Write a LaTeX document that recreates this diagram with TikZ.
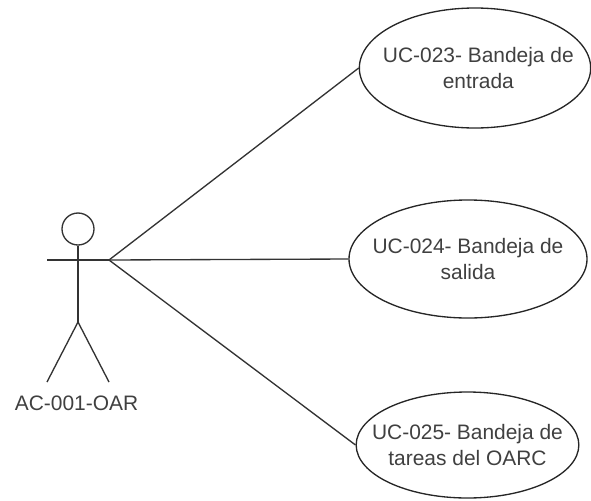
\documentclass[tikz,border=0pt]{standalone}
\usepackage{fontspec}
\setmainfont{Liberation Sans}
\usetikzlibrary{shapes.geometric}
\tikzset{
  uc/.style={draw=black!85,ellipse,line width=1pt,inner xsep=-25pt,inner ysep=0pt,align=center,font=\fontsize{15.7pt}{20pt}\selectfont,text=black!75},
  ln/.style={draw=black!80,line width=1pt},
  lab/.style={font=\fontsize{15.7pt}{19pt}\selectfont,text=black!75,inner sep=0pt}
}
\begin{document}
\begin{tikzpicture}[x=0.75pt,y=-0.75pt]
\useasboundingbox (0,0) rectangle (591,500);
\node[uc,minimum width=173.5pt,minimum height=90pt] (a) at (475,68) {\hspace*{5pt}UC-023- Bandeja de\\\hspace*{5pt}entrada};
\node[uc,minimum width=178.5pt,minimum height=88.5pt] (b) at (468,259) {UC-024- Bandeja de\\salida};
\node[uc,minimum width=167pt,minimum height=79.5pt] (c) at (467.5,445) {UC-025- Bandeja de\\tareas del OARC};
\node[draw=black!80,circle,line width=1pt,minimum size=24pt,inner sep=0pt] (head) at (78,229) {};
\coordinate (hip) at (78,322);
\coordinate (la) at (47,260);
\coordinate (ra) at (109,260);
\coordinate (lf) at (47,382);
\coordinate (rf) at (109,382);
\draw[ln,line width=1.3pt] (head.south) -- (hip);
\draw[ln] (la) -- (ra);
\draw[ln] (hip) -- (lf);
\draw[ln] (hip) -- (rf);
\node[lab] (actor) at (76.5,403) {AC-001-OAR};
\draw[ln] (ra) -- (a.west);
\draw[ln] (ra) -- (b.west);
\draw[ln] (ra) -- (c.west);
\end{tikzpicture}
\end{document}
